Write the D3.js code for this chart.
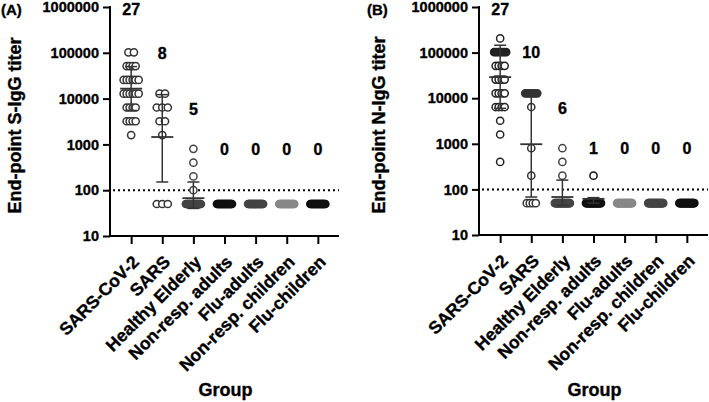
<!DOCTYPE html>
<html><head><meta charset="utf-8">
<script src="https://cdn.jsdelivr.net/npm/d3@7"></script>
<style>body{margin:0;background:#fff} text{font-family:"Liberation Sans",Arial,sans-serif;font-weight:bold;fill:#000;stroke:#000;stroke-width:0.35px}</style>
</head><body><svg id="c" width="709" height="402"></svg>
<script>
const groups = ["SARS-CoV-2","SARS","Healthy Elderly","Non-resp. adults","Flu-adults","Non-resp. children","Flu-children"];
const yTicks = [10,100,1000,10000,100000,1000000];
const cutoff = 100;
// each group: [titer, number of samples at that titer]
const sIgG = [
  [[102400,2],[51200,4],[25600,6],[12800,6],[6400,4],[3200,4],[1600,1]],
  [[12800,2],[6400,3],[3200,2],[1600,1],[50,3]],
  [[800,1],[400,1],[200,1],[100,1],[50,24]],
  [[50,24]],[[50,24]],[[50,24]],[[50,24]]
];
const nIgG = [
  [[204800,1],[102400,7],[51200,4],[25600,4],[12800,4],[6400,4],[3200,1],[1600,1],[400,1]],
  [[12800,7],[6400,1],[800,1],[200,1],[50,4]],
  [[800,1],[400,1],[200,1],[50,24]],
  [[200,1],[50,24]],[[50,24]],[[50,24]],[[50,24]]
];
const sPositive = [27,8,5,0,0,0,0];
const nPositive = [27,10,6,1,0,0,0];
const labelAt = [900000,100000,6000,800,800,800,800];
const sMean  = [16500,1450,67];
const sUpper = [50000,12200,151];
const sLower = [5500,151,40];
const nMean  = [29000,980,68,62];
const nUpper = [145000,13800,160,66];
const nLower = [6000,68,45,50];
const sColor = ["#333","#333","#444","#111","#444","#888","#111"];
const nColor = ["#222","#333","#444","#111","#888","#444","#111"];

const svg = d3.select("#c");

function panel(o){
  const g = svg.append("g");
  const y = d3.scaleLog().domain([10,1000000]).range([o.y0,o.y1]);
  const x = d3.scalePoint().domain(groups).range([o.xa,o.xb]).padding(0.68);
  const r = 3.6;

  g.append("line").attr("x1",o.xa+3).attr("x2",o.xb).attr("y1",y(cutoff)).attr("y2",y(cutoff))
    .attr("stroke","#000").attr("stroke-width",2).attr("stroke-dasharray","2,3");

  o.data.forEach((rows,gi)=>{
    rows.forEach(([v,n])=>{
      let sp = n>=7 ? Math.min(2,15/(n-1)) : (n<=3 ? 5.5 : 3);
      const w = (n-1)*sp;
      for(let k=0;k<n;k++){
        g.append("circle")
          .attr("cx", x(groups[gi]) - w/2 + k*sp)
          .attr("cy", y(v))
          .attr("r", r)
          .attr("fill", n>=7 ? o.color[gi] : "#fff")
          .attr("stroke", o.color[gi])
          .attr("stroke-width",1.5);
      }
    });
  });

  o.mean.forEach((m,gi)=>{
    const cx = x(groups[gi]);
    const c = "#333";
    g.append("line").attr("x1",cx).attr("x2",cx).attr("y1",y(o.upper[gi])).attr("y2",y(o.lower[gi]))
      .attr("stroke",c).attr("stroke-width",1.5);
    [o.upper[gi],o.lower[gi]].forEach(v=>{
      g.append("line").attr("x1",cx-6).attr("x2",cx+6).attr("y1",y(v)).attr("y2",y(v))
        .attr("stroke",c).attr("stroke-width",1.5);
    });
    g.append("line").attr("x1",cx-11).attr("x2",cx+11).attr("y1",y(m)).attr("y2",y(m))
      .attr("stroke",c).attr("stroke-width",1.8);
  });

  const ya = g.append("g").attr("transform",`translate(${o.xa},0)`)
    .call(d3.axisLeft(y).tickValues(yTicks).tickFormat(d3.format("d")).tickSize(7).tickSizeOuter(0).tickPadding(4));
  ya.selectAll("path,line").attr("stroke","#000").attr("stroke-width",2);
  ya.selectAll("text").attr("font-size","14.5px").attr("font-family",'"Liberation Sans",Arial,sans-serif').attr("font-weight","bold").attr("fill","#000");
  ya.select(".domain").attr("d",`M0,${o.y0+1}V${o.y1-1}`);

  const xa = g.append("g").attr("transform",`translate(0,${o.y0})`)
    .call(d3.axisBottom(x).tickSize(8).tickSizeOuter(0).tickFormat(""));
  xa.selectAll("path,line").attr("stroke","#000").attr("stroke-width",2);
  xa.select(".domain").attr("d",`M${o.xa-1},0H${o.xb}`);

  groups.forEach(gname=>{
    g.append("text").attr("text-anchor","end")
      .attr("transform",`translate(${x(gname)+9},${o.y0+27}) rotate(-45)`)
      .attr("font-size","17.5px").text(gname);
  });

  o.pos.forEach((n,gi)=>{
    g.append("text").attr("x",x(groups[gi])).attr("y",y(labelAt[gi])).attr("dy","0.36em")
      .attr("text-anchor","middle").attr("font-size","16px").text(n);
  });

  g.append("text").attr("transform",`translate(${o.titleX},${(o.y0+o.y1)/2+4}) rotate(-90)`)
    .attr("text-anchor","middle").attr("font-size","18px").text(o.title);
  g.append("text").attr("x",(o.xa+o.xb)/2+1).attr("y",396).attr("text-anchor","middle")
    .attr("font-size","18px").text("Group");
  g.append("text").attr("x",o.tagX).attr("y",15).attr("font-size","15px").text(o.tag);
}

panel({data:sIgG,pos:sPositive,mean:sMean,upper:sUpper,lower:sLower,color:sColor,
  xa:110,xb:339,y0:236,y1:7,titleX:21,title:"End-point S-IgG titer",tag:"(A)",tagX:1});
panel({data:nIgG,pos:nPositive,mean:nMean,upper:nUpper,lower:nLower,color:nColor,
  xa:479,xb:708,y0:235,y1:7,titleX:385,title:"End-point N-IgG titer",tag:"(B)",tagX:367});
</script></body></html>
